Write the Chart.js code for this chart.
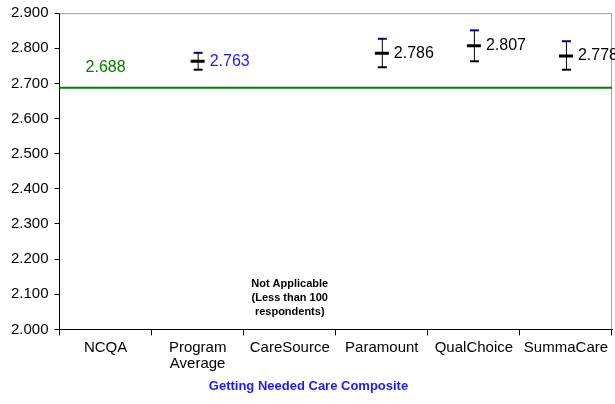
<!DOCTYPE html>
<html>
<head>
<meta charset="utf-8">
<script src="https://cdn.jsdelivr.net/npm/chart.js@4/dist/chart.umd.min.js"></script>
<style>
  html, body { margin: 0; padding: 0; background: #fff; }
  #wrap { width: 615px; height: 404px; }
</style>
</head>
<body>
<div id="wrap"><canvas id="chart"></canvas></div>
<script>
// 数据
const categories = ['NCQA', ['Program', 'Average'], 'CareSource', 'Paramount', 'QualChoice', 'SummaCare'];
const means = [null, 2.763, null, 2.786, 2.807, 2.778];
const upper = [null, 2.787, null, 2.827, 2.851, 2.820];
const lower = [null, 2.739, null, 2.746, 2.763, 2.739];
const ncqaValue = 2.688;
const yTicks = [2.0, 2.1, 2.2, 2.3, 2.4, 2.5, 2.6, 2.7, 2.8, 2.9];
const naIndex = 2;
const naText = ['Not Applicable', '(Less than 100', 'respondents)'];

const FONT = 'Arial, "Liberation Sans", sans-serif';

// 误差线、NCQA 基准线和数值标签
const overlay = {
  id: 'overlay',
  beforeDatasetsDraw(chart) {
    const { ctx, chartArea: a, scales: { y } } = chart;
    ctx.save();
    // 上/右边框
    ctx.strokeStyle = '#a0a0a0';
    ctx.lineWidth = 1;
    ctx.beginPath();
    ctx.moveTo(a.left, a.top + 0.5);
    ctx.lineTo(a.right - 0.5, a.top + 0.5);
    ctx.lineTo(a.right - 0.5, a.bottom);
    ctx.stroke();
    // NCQA 线
    const ny = y.getPixelForValue(ncqaValue);
    ctx.strokeStyle = '#008000';
    ctx.lineWidth = 2;
    ctx.beginPath();
    ctx.moveTo(a.left, ny);
    ctx.lineTo(a.right, ny);
    ctx.stroke();
    ctx.restore();
  },
  afterDatasetsDraw(chart) {
    const { ctx, scales: { x, y } } = chart;
    ctx.save();
    means.forEach((m, i) => {
      if (m === null) return;
      const px = x.getPixelForValue(i);
      const top = y.getPixelForValue(upper[i]);
      const bot = y.getPixelForValue(lower[i]);
      ctx.strokeStyle = '#000';
      ctx.lineWidth = 1;
      ctx.beginPath();
      ctx.moveTo(px + 0.5, top);
      ctx.lineTo(px + 0.5, bot);
      ctx.stroke();
      ctx.lineWidth = 2;
      ctx.beginPath();
      ctx.moveTo(px - 4, bot);
      ctx.lineTo(px + 5, bot);
      ctx.stroke();
      ctx.strokeStyle = '#000080';
      ctx.beginPath();
      ctx.moveTo(px - 4, top);
      ctx.lineTo(px + 5, top);
      ctx.stroke();
      // 数值
      ctx.font = '16px ' + FONT;
      ctx.fillStyle = i === 1 ? '#1a1aff' : '#000';
      ctx.textAlign = 'left';
      ctx.textBaseline = 'middle';
      ctx.fillText(m.toFixed(3), px + 12, y.getPixelForValue(m));
    });
    // NCQA 标签
    ctx.font = '16px ' + FONT;
    ctx.fillStyle = '#008000';
    ctx.textAlign = 'center';
    ctx.textBaseline = 'middle';
    ctx.fillText(ncqaValue.toFixed(3), x.getPixelForValue(0), y.getPixelForValue(ncqaValue) - 20);
    // 不适用说明
    ctx.font = 'bold 11px ' + FONT;
    ctx.fillStyle = '#000';
    const nx = x.getPixelForValue(naIndex);
    naText.forEach((t, k) => ctx.fillText(t, nx, 284 + k * 14));
    ctx.restore();
  }
};

new Chart(document.getElementById('chart'), {
  type: 'line',
  data: {
    labels: categories,
    datasets: [{
      data: means,
      showLine: false,
      pointStyle: 'line',
      pointRadius: 7,
      pointBorderWidth: 3,
      pointBorderColor: '#000',
      pointBackgroundColor: '#000'
    }]
  },
  options: {
    responsive: true,
    maintainAspectRatio: false,
    animation: false,
    layout: { autoPadding: false, padding: { top: 3, right: 3, left: 5, bottom: 10 } },
    plugins: {
      legend: { display: false },
      tooltip: { enabled: false },
      title: {
        display: true,
        position: 'bottom',
        text: 'Getting Needed Care Composite',
        color: '#1a1aff',
        font: { family: FONT, size: 13, weight: 'bold' },
        padding: { top: 2, bottom: 0 }
      }
    },
    scales: {
      x: {
        offset: true,
        grid: { offset: true, drawOnChartArea: false, drawTicks: true, tickLength: 6, color: '#000' },
        border: { color: '#000', width: 1 },
        ticks: { color: '#000', font: { family: FONT, size: 15, lineHeight: 1.1 }, padding: 4, maxRotation: 0, autoSkip: false }
      },
      y: {
        min: 2.0,
        max: 2.9,
        afterBuildTicks(axis) { axis.ticks = yTicks.map(v => ({ value: v })); },
        grid: { drawOnChartArea: false, drawTicks: true, tickLength: 5, color: '#000' },
        border: { color: '#000', width: 1 },
        ticks: { color: '#000', font: { family: FONT, size: 15, lineHeight: 0.95 }, padding: 6, callback: v => Number(v).toFixed(3) }
      }
    }
  },
  plugins: [overlay]
});
</script>
</body>
</html>
